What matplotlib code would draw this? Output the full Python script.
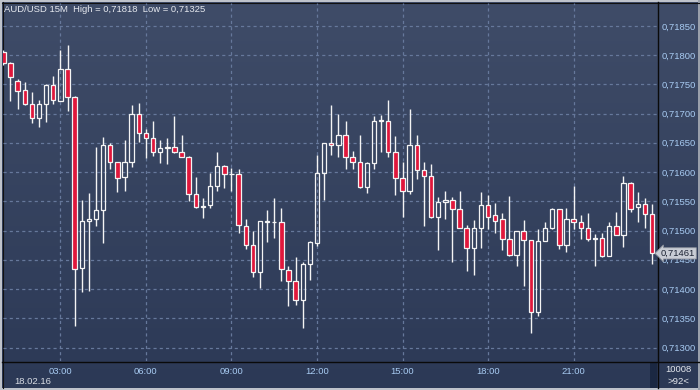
import numpy as np
import pandas as pd
import matplotlib
matplotlib.use('Agg')
import matplotlib.pyplot as plt
from matplotlib.patches import Rectangle
from matplotlib.transforms import blended_transform_factory

# AUD/USD 15M candles, 18.02.16 01:00 .. 23:45
opens = [0.71805, 0.71786, 0.71755, 0.71741, 0.71716, 0.71692, 0.71717, 0.71748, 0.71722, 0.71776,
         0.71729, 0.71436, 0.71516, 0.71519, 0.71535, 0.71646, 0.71618, 0.71591, 0.71617, 0.71699,
         0.71666, 0.71659, 0.71634, 0.71641, 0.71642, 0.71634, 0.71625, 0.71562, 0.71541, 0.71543,
         0.71576, 0.71611, 0.71596, 0.71596, 0.71507, 0.71476, 0.71429, 0.71514, 0.71514, 0.71514,
         0.71432, 0.71413, 0.71381, 0.71442, 0.71478, 0.71598, 0.71649, 0.71646, 0.71664, 0.71625,
         0.71618, 0.71574, 0.71615, 0.71687, 0.71687, 0.71635, 0.71589, 0.71567, 0.71647, 0.71603,
         0.71594, 0.71523, 0.71548, 0.71553, 0.71536, 0.71505, 0.71471, 0.71505, 0.71543, 0.71526,
         0.71519, 0.71485, 0.71459, 0.71500, 0.71483, 0.71361, 0.71482, 0.71505, 0.71536, 0.71475,
         0.71519, 0.71514, 0.71504, 0.71485, 0.71488, 0.71456, 0.71507, 0.71492, 0.71581, 0.71541,
         0.71546, 0.71528]
highs = [0.71809, 0.71788, 0.71759, 0.71754, 0.71737, 0.71724, 0.71750, 0.71764, 0.71809, 0.71818,
         0.71730, 0.71552, 0.71565, 0.71643, 0.71660, 0.71649, 0.71618, 0.71655, 0.71715, 0.71718,
         0.71673, 0.71687, 0.71655, 0.71658, 0.71696, 0.71663, 0.71627, 0.71591, 0.71555, 0.71599,
         0.71634, 0.71612, 0.71607, 0.71605, 0.71519, 0.71500, 0.71517, 0.71535, 0.71556, 0.71538,
         0.71439, 0.71454, 0.71446, 0.71482, 0.71629, 0.71650, 0.71715, 0.71699, 0.71687, 0.71636,
         0.71664, 0.71617, 0.71695, 0.71697, 0.71723, 0.71661, 0.71618, 0.71708, 0.71664, 0.71618,
         0.71613, 0.71558, 0.71567, 0.71557, 0.71568, 0.71509, 0.71518, 0.71566, 0.71561, 0.71547,
         0.71530, 0.71559, 0.71500, 0.71518, 0.71484, 0.71502, 0.71514, 0.71538, 0.71537, 0.71538,
         0.71576, 0.71526, 0.71530, 0.71494, 0.71495, 0.71514, 0.71531, 0.71593, 0.71583, 0.71566,
         0.71555, 0.71546]
lows = [0.71783, 0.71722, 0.71708, 0.71715, 0.71684, 0.71677, 0.71686, 0.71717, 0.71721, 0.71705,
        0.71336, 0.71395, 0.71397, 0.71508, 0.71479, 0.71605, 0.71566, 0.71568, 0.71608, 0.71652,
        0.71624, 0.71628, 0.71616, 0.71614, 0.71632, 0.71625, 0.71550, 0.71538, 0.71521, 0.71538,
        0.71568, 0.71572, 0.71568, 0.71495, 0.71468, 0.71420, 0.71401, 0.71481, 0.71488, 0.71413,
        0.71371, 0.71373, 0.71334, 0.71415, 0.71473, 0.71553, 0.71629, 0.71625, 0.71605, 0.71605,
        0.71572, 0.71565, 0.71605, 0.71635, 0.71625, 0.71561, 0.71523, 0.71562, 0.71588, 0.71508,
        0.71521, 0.71466, 0.71519, 0.71447, 0.71505, 0.71431, 0.71424, 0.71470, 0.71502, 0.71495,
        0.71466, 0.71456, 0.71439, 0.71406, 0.71325, 0.71354, 0.71482, 0.71502, 0.71468, 0.71463,
        0.71502, 0.71485, 0.71482, 0.71439, 0.71454, 0.71456, 0.71492, 0.71472, 0.71531, 0.71514,
        0.71505, 0.71442]
closes = [0.71786, 0.71762, 0.71738, 0.71717, 0.71692, 0.71717, 0.71748, 0.71723, 0.71776, 0.71729,
          0.71435, 0.71516, 0.71519, 0.71535, 0.71646, 0.71618, 0.71589, 0.71617, 0.71699, 0.71666,
          0.71659, 0.71634, 0.71641, 0.71642, 0.71634, 0.71625, 0.71562, 0.71541, 0.71542, 0.71576,
          0.71611, 0.71596, 0.71597, 0.71509, 0.71476, 0.71429, 0.71516, 0.71516, 0.71515, 0.71434,
          0.71413, 0.71381, 0.71442, 0.71480, 0.71598, 0.71649, 0.71646, 0.71664, 0.71625, 0.71617,
          0.71574, 0.71615, 0.71687, 0.71688, 0.71635, 0.71589, 0.71567, 0.71647, 0.71603, 0.71594,
          0.71523, 0.71548, 0.71553, 0.71536, 0.71505, 0.71470, 0.71505, 0.71543, 0.71524, 0.71517,
          0.71485, 0.71459, 0.71499, 0.71483, 0.71361, 0.71482, 0.71505, 0.71536, 0.71475, 0.71519,
          0.71514, 0.71504, 0.71485, 0.71488, 0.71456, 0.71507, 0.71492, 0.71581, 0.71536, 0.71546,
          0.71528, 0.71461]

price_ticks = [0.7130, 0.7135, 0.7140, 0.7145, 0.7150, 0.7155, 0.7160, 0.7165, 0.7170, 0.7175, 0.7180, 0.7185]
time_labels = ['03:00', '06:00', '09:00', '12:00', '15:00', '18:00', '21:00']
title = 'AUD/USD 15M  High = 0,71818  Low = 0,71325'
date_label = '18.02.16'
volume_label = '10008'
count_label = '>92<'

W, H = 700, 390
RED = '#e0173b'
WHITE = '#f4f4f4'
GRID = '#66789b'
LBL = '#a8cbf2'
plt.rcParams['font.family'] = ['Liberation Sans', 'DejaVu Sans']

fig = plt.figure(figsize=(W / 100, H / 100), dpi=100)

# background gradient
bg = fig.add_axes([0, 0, 1, 1], zorder=0)
grad = np.linspace(0, 1, 256).reshape(-1, 1)
cmap = matplotlib.colors.LinearSegmentedColormap.from_list('bg', ['#3f4c68', '#2c3956'])
bg.imshow(grad, aspect='auto', cmap=cmap, extent=[0, W, H, 0])
bg.set_xlim(0, W)
bg.set_ylim(H, 0)
bg.axis('off')
# frame pieces
bg.add_patch(Rectangle((0, 0), W, 2.2, color='#bfc3cb', lw=0))
bg.add_patch(Rectangle((0, 387.5), W, 2.5, color='#bfc3cb', lw=0))
bg.add_patch(Rectangle((0, 0), 2.2, H, color='#bfc3cb', lw=0))
bg.add_patch(Rectangle((698, 0), 2, H, color='#9aa0ab', lw=0))
bg.plot([2.2, W], [2.6, 2.6], color='#111', lw=0.8)
bg.plot([2.6, 2.6], [2.2, 387.5], color='#111', lw=0.8)
bg.plot([2.2, W], [361.5, 361.5], color='#0a0a0a', lw=1.0)
bg.plot([657.5, 657.5], [2.2, 387.5], color='#0a0a0a', lw=1.0)
bg.add_patch(Rectangle((650, 362.5), 6.5, 25, color='#1b2842', lw=0))

ax = fig.add_axes([3 / W, (H - 361) / H, 654 / W, 358 / H], zorder=1)
ax.set_facecolor('none')
for s in ax.spines.values():
    s.set_visible(False)

n = len(opens)
x = np.arange(n)
o = np.array(opens)
c = np.array(closes)
hi = np.array(highs)
lo = np.array(lows)
top = np.maximum(o, c)
bot = np.minimum(o, c)
body = np.maximum(top - bot, 0.000012)
up = c >= o

ax.vlines(x, top, hi, color=WHITE, lw=1.0, zorder=3)
ax.vlines(x, lo, bot, color=WHITE, lw=1.0, zorder=3)
ax.bar(x[~up], body[~up], bottom=bot[~up], width=0.62, color=RED,
       edgecolor=WHITE, linewidth=0.9, zorder=4)
ax.bar(x[up], body[up], bottom=bot[up], width=0.62, color='none',
       edgecolor=WHITE, linewidth=0.9, zorder=4)

ax.set_xlim(-0.05, 91.7)
ax.set_ylim(0.71277, 0.71889)

times = pd.date_range('2016-02-18 01:00', periods=n, freq='15min')
tick_pos = [i for i, t in enumerate(times) if t.strftime('%H:%M') in time_labels]
ax.set_xticks(tick_pos)
ax.set_xticklabels(time_labels)
ax.set_yticks(price_ticks)
ax.set_yticklabels([f'{v:.5f}'.replace('.', ',') for v in price_ticks])
ax.yaxis.tick_right()
ax.tick_params(axis='both', length=0, labelsize=6.8, labelcolor=LBL)
ax.tick_params(axis='x', pad=4)
ax.tick_params(axis='y', pad=3.5)
ax.grid(True, color=GRID, lw=0.9, linestyle=(0, (2.5, 2.5)), zorder=1)

# last price tag
tr = blended_transform_factory(ax.transAxes, ax.transData)
ax.text(1.006, closes[-1], f'{closes[-1]:.5f}'.replace('.', ','), transform=tr,
        fontsize=6.8, color='#1c2333', va='center', ha='left', zorder=6,
        bbox=dict(boxstyle='larrow,pad=0.12', fc='#c9cdd5', ec='#8b919c', lw=0.6))

fig.text(4 / W, 1 - 9 / H, title, fontsize=6.8, color='#e6e9ef', va='center', ha='left', zorder=5)
fig.text(14 / W, 1 - 381 / H, date_label, fontsize=6.8, color='#d8dce4', va='center', ha='left')
fig.text(678 / W, 1 - 369 / H, volume_label, fontsize=6.8, color='#e3e6ec', va='center', ha='center')
fig.text(678 / W, 1 - 382 / H, count_label, fontsize=6.8, color='#e3e6ec', va='center', ha='center')

fig.savefig('out.png', dpi=100)
